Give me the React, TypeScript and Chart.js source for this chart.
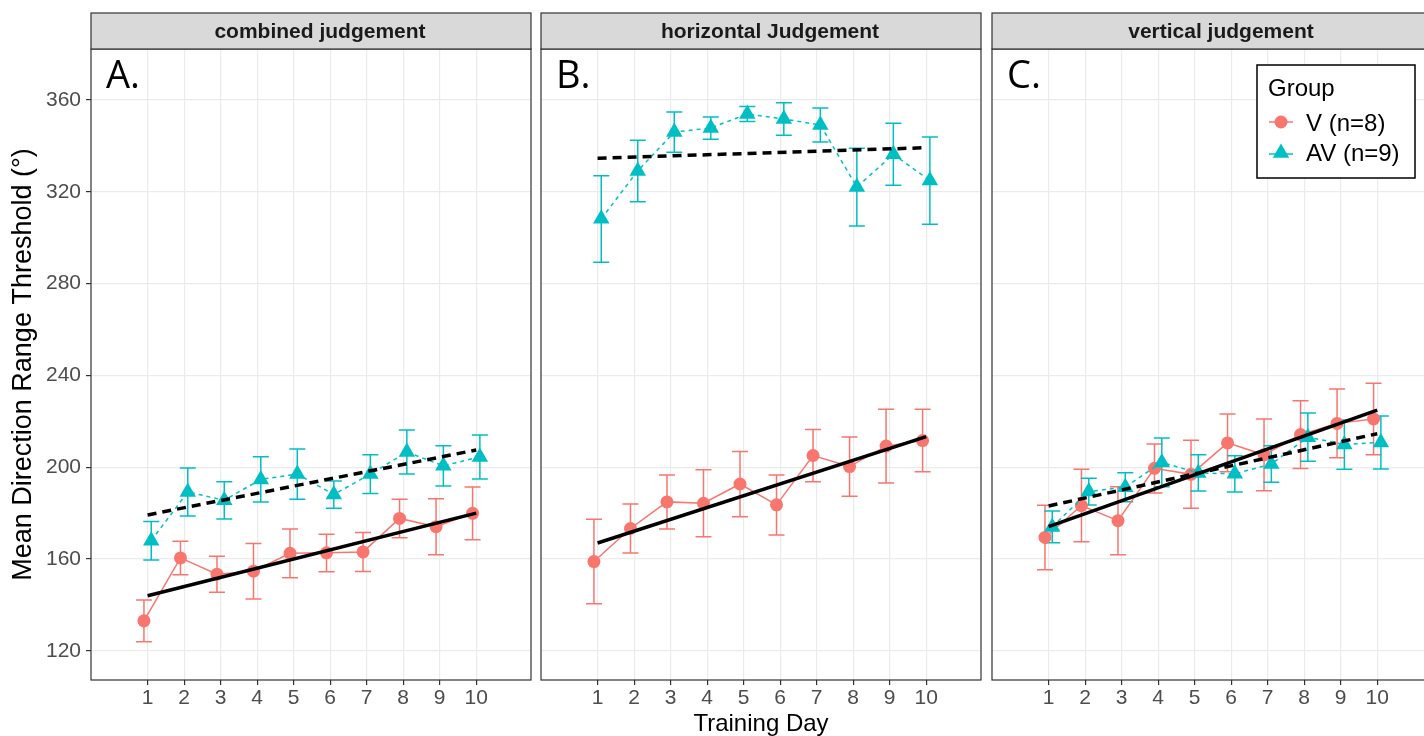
import React, { useEffect, useRef } from "react";
import { Chart, registerables } from "chart.js";

Chart.register(...registerables);

// ---------- data ----------
const days = [1, 2, 3, 4, 5, 6, 7, 8, 9, 10];
const trendDays = [1, 10];
const yTickValues = [120, 160, 200, 240, 280, 320, 360];

const panelTitles = ["combined judgement", "horizontal Judgement", "vertical judgement"];
const panelLetters = ["A.", "B.", "C."];
const groupNames = ["V (n=8)", "AV (n=9)"];
const legendTitle = "Group";
const yAxisTitle = "Mean Direction Range Threshold (°)";
const xAxisTitle = "Training Day";

// Panel A: combined judgement
const vCombMean = [133.1, 160.5, 153.4, 154.7, 162.5, 162.7, 163.1, 177.7, 174.1, 179.9];
const vCombLow = [124.0, 153.2, 145.5, 142.6, 151.9, 154.5, 154.6, 169.3, 161.9, 168.4];
const vCombHigh = [142.1, 167.7, 161.2, 166.8, 173.1, 170.8, 171.6, 186.0, 186.3, 191.4];
const avCombMean = [168.0, 189.2, 185.6, 194.7, 197.0, 188.1, 197.0, 206.6, 200.6, 204.5];
const avCombLow = [159.6, 178.7, 177.4, 184.8, 186.0, 182.1, 188.6, 197.0, 191.8, 194.9];
const avCombHigh = [176.4, 199.7, 193.7, 204.6, 207.9, 194.0, 205.4, 216.2, 209.4, 214.0];
const vCombTrend = [144.0, 180.0];
const avCombTrend = [179.2, 207.5];

// Panel B: horizontal judgement
const vHorMean = [158.9, 173.3, 184.9, 184.3, 192.7, 183.6, 205.1, 200.3, 209.2, 211.6];
const vHorLow = [140.5, 162.6, 173.1, 169.7, 178.4, 170.5, 193.7, 187.3, 193.1, 198.0];
const vHorHigh = [177.3, 184.0, 196.6, 198.9, 206.9, 196.6, 216.4, 213.2, 225.2, 225.2];
const avHorMean = [308.2, 329.1, 346.0, 347.8, 353.9, 351.7, 349.1, 322.1, 336.3, 324.9];
const avHorLow = [289.3, 315.7, 337.2, 342.9, 350.6, 344.6, 341.7, 305.1, 322.8, 305.8];
const avHorHigh = [327.0, 342.4, 354.8, 352.6, 357.1, 358.8, 356.5, 339.0, 349.8, 343.9];
const vHorTrend = [167.0, 213.3];
const avHorTrend = [334.6, 339.2];

// Panel C: vertical judgement
const vVerMean = [169.4, 183.3, 176.7, 199.5, 196.9, 210.6, 205.4, 214.2, 219.1, 221.0];
const vVerLow = [155.3, 167.5, 161.9, 188.8, 182.1, 198.0, 189.8, 199.4, 204.1, 205.4];
const vVerHigh = [183.4, 199.1, 191.5, 210.1, 211.7, 223.2, 221.0, 229.0, 234.1, 236.6];
const avVerMean = [174.0, 189.4, 191.3, 202.1, 197.5, 197.1, 201.4, 213.1, 209.9, 210.8];
const avVerLow = [167.1, 183.5, 185.0, 191.5, 189.6, 189.2, 193.4, 202.6, 199.1, 199.2];
const avVerHigh = [180.9, 195.2, 197.6, 212.7, 205.4, 205.0, 209.4, 223.6, 220.6, 222.3];
const vVerTrend = [174.1, 224.9];
const avVerTrend = [183.1, 214.6];

// ---------- style / layout ----------
const V_COLOR = "#F8766D";
const AV_COLOR = "#00BFC4";
const FONT = '"Liberation Sans", Arial, Helvetica, sans-serif';
const LETTER_FONT = '"Open Sans", "Liberation Sans", sans-serif';
const DODGE = 0.1;
const X_MIN = -0.55;
const X_MAX = 11.5;
const Y_MIN = 107.3;
const Y_MAX = 382.2;

const H = 736;
const PLOT_TOP = 49;
const STRIP_TOP = 13;
const PLOT_BOTTOM = 680;
const PLOT_W = 440;
const STRIP_TEXT_SHIFT = 9;
const plotLefts = [91, 541, 992];
const canvasLefts = [0, 536, 986];
const canvasWidths = [536, 450, 460];

const panels = [
  {
    title: panelTitles[0], letter: panelLetters[0],
    v: { mean: vCombMean, low: vCombLow, high: vCombHigh, trend: vCombTrend },
    av: { mean: avCombMean, low: avCombLow, high: avCombHigh, trend: avCombTrend },
  },
  {
    title: panelTitles[1], letter: panelLetters[1],
    v: { mean: vHorMean, low: vHorLow, high: vHorHigh, trend: vHorTrend },
    av: { mean: avHorMean, low: avHorLow, high: avHorHigh, trend: avHorTrend },
  },
  {
    title: panelTitles[2], letter: panelLetters[2],
    v: { mean: vVerMean, low: vVerLow, high: vVerHigh, trend: vVerTrend },
    av: { mean: avVerMean, low: avVerLow, high: avVerHigh, trend: avVerTrend },
  },
];

const errorBarPlugin = {
  id: "errorBars",
  beforeDatasetsDraw(chart: any) {
    const { ctx, chartArea, scales } = chart;
    ctx.save();
    ctx.beginPath();
    ctx.rect(chartArea.left, chartArea.top, chartArea.right - chartArea.left, chartArea.bottom - chartArea.top);
    ctx.clip();
    const sets = chart.data.datasets.slice().sort((a: any, b: any) => (b.order || 0) - (a.order || 0));
    sets.forEach((ds: any) => {
      if (!ds.errLow) return;
      ctx.strokeStyle = ds.borderColor;
      ctx.lineWidth = 1.5;
      ctx.setLineDash([]);
      ds.data.forEach((p: any, i: number) => {
        const x = scales.x.getPixelForValue(p.x);
        const yl = scales.y.getPixelForValue(ds.errLow[i]);
        const yh = scales.y.getPixelForValue(ds.errHigh[i]);
        ctx.beginPath();
        ctx.moveTo(x, yl);
        ctx.lineTo(x, yh);
        ctx.moveTo(x - 8, yl);
        ctx.lineTo(x + 8, yl);
        ctx.moveTo(x - 8, yh);
        ctx.lineTo(x + 8, yh);
        ctx.stroke();
      });
    });
    ctx.restore();
  },
};

function drawTriangle(ctx: CanvasRenderingContext2D, x: number, y: number, r: number) {
  ctx.beginPath();
  ctx.moveTo(x, y - r);
  ctx.lineTo(x + (r * Math.sqrt(3)) / 2, y + r / 2);
  ctx.lineTo(x - (r * Math.sqrt(3)) / 2, y + r / 2);
  ctx.closePath();
  ctx.fill();
}

function makeDecorPlugin(index: number) {
  return {
    id: "decor" + index,
    afterDraw(chart: any) {
      const { ctx, chartArea } = chart;
      const { left, right, top, bottom } = chartArea;
      ctx.save();
      // panel border
      ctx.strokeStyle = "#333333";
      ctx.lineWidth = 1.2;
      ctx.setLineDash([]);
      ctx.strokeRect(left, top, right - left, bottom - top);
      // strip
      ctx.fillStyle = "#d9d9d9";
      ctx.fillRect(left, STRIP_TOP, right - left, top - STRIP_TOP);
      ctx.strokeRect(left, STRIP_TOP, right - left, top - STRIP_TOP);
      ctx.fillStyle = "#1a1a1a";
      ctx.font = "bold 21px " + FONT;
      ctx.textAlign = "center";
      ctx.textBaseline = "middle";
      ctx.fillText(panels[index].title, (left + right) / 2 + STRIP_TEXT_SHIFT, (STRIP_TOP + top) / 2 + 1);
      // panel letter
      ctx.fillStyle = "#000000";
      ctx.font = "38px " + LETTER_FONT;
      ctx.textAlign = "left";
      ctx.textBaseline = "alphabetic";
      ctx.fillText(panels[index].letter, left + 15, top + 39);
      // legend in last panel
      if (index === 2) {
        const bx = left + 265;
        const by = top + 16;
        const bw = 158;
        const bh = 113;
        ctx.fillStyle = "#ffffff";
        ctx.fillRect(bx, by, bw, bh);
        ctx.strokeStyle = "#000000";
        ctx.lineWidth = 1.5;
        ctx.strokeRect(bx, by, bw, bh);
        ctx.fillStyle = "#000000";
        ctx.font = "24px " + FONT;
        ctx.fillText(legendTitle, bx + 11, by + 31);
        ctx.fillText(groupNames[0], bx + 49, by + 66);
        ctx.fillText(groupNames[1], bx + 49, by + 96);
        // V key
        ctx.strokeStyle = V_COLOR;
        ctx.lineWidth = 1.5;
        ctx.beginPath();
        ctx.moveTo(bx + 12, by + 57);
        ctx.lineTo(bx + 36, by + 57);
        ctx.stroke();
        ctx.fillStyle = V_COLOR;
        ctx.beginPath();
        ctx.arc(bx + 24, by + 57, 6.5, 0, Math.PI * 2);
        ctx.fill();
        // AV key
        ctx.strokeStyle = AV_COLOR;
        ctx.beginPath();
        ctx.moveTo(bx + 12, by + 89);
        ctx.lineTo(bx + 36, by + 89);
        ctx.stroke();
        ctx.fillStyle = AV_COLOR;
        drawTriangle(ctx, bx + 24, by + 88, 9.5);
      }
      ctx.restore();
    },
  };
}

function createPanel(canvas: HTMLCanvasElement, index: number) {
  const p = panels[index];
  const first = index === 0;
  const yAxisWidth = first ? 91 : 0;
  const padLeft = plotLefts[index] - canvasLefts[index] - yAxisWidth;
  const padRight = canvasLefts[index] + canvasWidths[index] - (plotLefts[index] + PLOT_W);

  const datasets: any[] = [
    {
      label: groupNames[0],
      data: days.map((d, i) => ({ x: d - DODGE, y: p.v.mean[i] })),
      errLow: p.v.low,
      errHigh: p.v.high,
      borderColor: V_COLOR,
      backgroundColor: V_COLOR,
      borderWidth: 1.5,
      pointStyle: "circle",
      pointRadius: 6.5,
      pointBorderWidth: 0,
      pointBackgroundColor: V_COLOR,
      order: 3,
    },
    {
      label: groupNames[1],
      data: days.map((d, i) => ({ x: d + DODGE, y: p.av.mean[i] })),
      errLow: p.av.low,
      errHigh: p.av.high,
      borderColor: AV_COLOR,
      backgroundColor: AV_COLOR,
      borderWidth: 1.5,
      borderDash: [4, 4],
      pointStyle: "triangle",
      pointRadius: 9.5,
      pointBorderWidth: 0,
      pointBackgroundColor: AV_COLOR,
      order: 2,
    },
    {
      label: "V trend",
      data: trendDays.map((d, i) => ({ x: d, y: p.v.trend[i] })),
      borderColor: "#000000",
      borderWidth: 3.5,
      pointRadius: 0,
      order: 1,
    },
    {
      label: "AV trend",
      data: trendDays.map((d, i) => ({ x: d, y: p.av.trend[i] })),
      borderColor: "#000000",
      borderWidth: 3.5,
      borderDash: [9, 6],
      pointRadius: 0,
      order: 0,
    },
  ];

  return new Chart(canvas, {
    type: "line",
    data: { datasets },
    plugins: [errorBarPlugin, makeDecorPlugin(index)],
    options: {
      animation: false,
      responsive: false,
      devicePixelRatio: 1,
      events: [],
      layout: {
        autoPadding: false,
        padding: { top: PLOT_TOP, bottom: 0, left: padLeft, right: padRight },
      },
      plugins: { legend: { display: false }, tooltip: { enabled: false }, title: { display: false } },
      elements: { line: { tension: 0 } },
      scales: {
        x: {
          type: "linear",
          min: X_MIN,
          max: X_MAX,
          afterBuildTicks: (s: any) => {
            s.ticks = days.map((v) => ({ value: v }));
          },
          afterFit: (s: any) => {
            s.height = H - PLOT_BOTTOM;
            s.paddingLeft = 0;
            s.paddingRight = 0;
          },
          grid: {
            color: "#ebebeb",
            lineWidth: 1.2,
            drawTicks: true,
            tickLength: 5,
            tickColor: "#333333",
            tickWidth: 1.2,
          },
          border: { display: false },
          ticks: {
            color: "#4d4d4d",
            font: { family: FONT, size: 21 },
            padding: 1,
            maxRotation: 0,
            autoSkip: false,
            callback: (v: any) => String(v),
          },
          title: {
            display: index === 1,
            text: xAxisTitle,
            color: "#000000",
            font: { family: FONT, size: 24, lineHeight: 0.95 },
            padding: { top: 0, bottom: 0 },
          },
        },
        y: {
          type: "linear",
          min: Y_MIN,
          max: Y_MAX,
          afterBuildTicks: (s: any) => {
            s.ticks = yTickValues.map((v) => ({ value: v }));
          },
          afterFit: (s: any) => {
            s.width = yAxisWidth;
            s.paddingTop = 0;
            s.paddingBottom = 0;
          },
          grid: {
            color: "#ebebeb",
            lineWidth: 1.2,
            drawTicks: first,
            tickLength: 5,
            tickColor: "#333333",
            tickWidth: 1.2,
          },
          border: { display: false },
          ticks: {
            display: first,
            color: "#4d4d4d",
            font: { family: FONT, size: 21 },
            padding: 5,
            callback: (v: any) => String(v),
          },
          title: {
            display: first,
            text: yAxisTitle,
            color: "#000000",
            font: { family: FONT, size: 27 },
            padding: { top: 7, bottom: 0 },
          },
        },
      },
    } as any,
  });
}

export default function App() {
  const r0 = useRef<HTMLCanvasElement>(null);
  const r1 = useRef<HTMLCanvasElement>(null);
  const r2 = useRef<HTMLCanvasElement>(null);
  const refs = [r0, r1, r2];

  useEffect(() => {
    const charts = refs.map((r, i) => createPanel(r.current as HTMLCanvasElement, i));
    return () => charts.forEach((c) => c.destroy());
  }, []);

  return (
    <div
      style={{
        position: "fixed",
        left: 0,
        top: 0,
        width: 1424,
        height: H,
        overflow: "hidden",
        background: "#ffffff",
      }}
    >
      {refs.map((r, i) => (
        <canvas
          key={i}
          ref={r}
          width={canvasWidths[i]}
          height={H}
          style={{
            position: "absolute",
            left: canvasLefts[i],
            top: 0,
            width: canvasWidths[i],
            height: H,
          }}
        />
      ))}
    </div>
  );
}
